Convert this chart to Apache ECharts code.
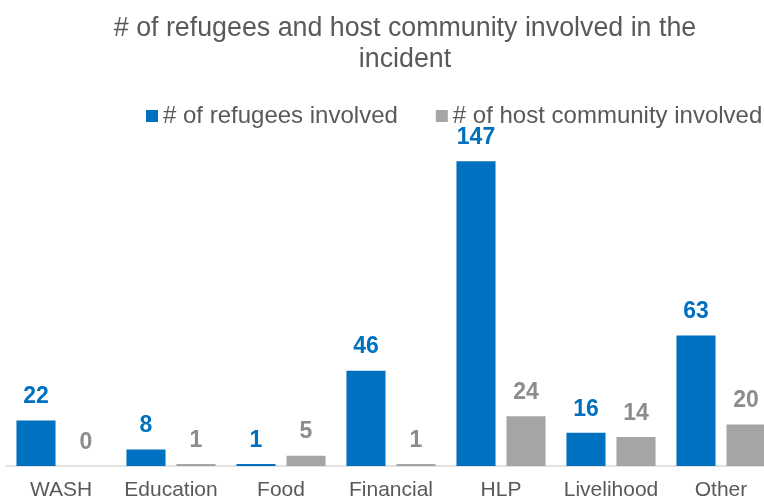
<!DOCTYPE html>
<html lang="en">
<head>
    <meta charset="utf-8">
    <title>Refugees and host community</title>
    <script type="text/javascript" src="https://cdn.jsdelivr.net/npm/echarts@6/dist/echarts.min.js"></script>
    <style>
        html, body { margin: 0; padding: 0; background: #fff; }
        #main { width: 764px; height: 499px; }
    </style>
</head>
<body>
<div id="main"></div>
<script>
    var categories = ['WASH', 'Education', 'Food', 'Financial', 'HLP', 'Livelihood', 'Other'];
    var refugees = [22, 8, 1, 46, 147, 16, 63];
    var hostCommunity = [0, 1, 5, 1, 24, 14, 20];

    var myChart = echarts.init(document.getElementById('main'));
    var option = {
        animation: false,
        title: {
            text: '# of refugees and host community involved in the\nincident',
            left: 400,
            textAlign: 'center',
            top: 8,
            textStyle: {
                fontFamily: 'Liberation Sans',
                fontSize: 26.8,
                fontWeight: 'normal',
                color: '#595959',
                lineHeight: 31
            }
        },
        legend: {
            top: 104,
            left: 146,
            width: 640,
            padding: 0,
            itemWidth: 12,
            itemHeight: 12,
            itemGap: 38,
            icon: 'rect',
            textStyle: {
                fontFamily: 'Liberation Sans',
                fontSize: 24,
                color: '#595959'
            },
            data: ['# of refugees involved', '# of host community involved']
        },
        grid: {
            left: 6,
            width: 770,
            top: 155,
            bottom: 33,
            outerBoundsMode: 'none'
        },
        xAxis: {
            type: 'category',
            data: categories,
            axisTick: { show: false },
            axisLine: { lineStyle: { color: '#d9d9d9', width: 1.5 } },
            axisLabel: {
                interval: 0,
                fontFamily: 'Liberation Sans',
                fontSize: 21,
                color: '#595959',
                margin: 14
            }
        },
        yAxis: {
            type: 'value',
            min: 0,
            max: 150,
            show: false,
            splitLine: { show: false }
        },
        series: [
            {
                name: '# of refugees involved',
                type: 'bar',
                data: refugees,
                barGap: '28%',
                barCategoryGap: '19%',
                itemStyle: { color: '#0070C0' },
                label: {
                    show: true,
                    position: 'top',
                    distance: 12,
                    fontFamily: 'Liberation Sans',
                    fontSize: 23,
                    fontWeight: 'bold',
                    color: '#0070C0'
                }
            },
            {
                name: '# of host community involved',
                type: 'bar',
                data: hostCommunity,
                itemStyle: { color: '#A5A5A5' },
                label: {
                    show: true,
                    position: 'top',
                    distance: 12,
                    fontFamily: 'Liberation Sans',
                    fontSize: 23,
                    fontWeight: 'bold',
                    color: '#8C8C8C'
                }
            }
        ]
    };
    myChart.setOption(option);
</script>
</body>
</html>
